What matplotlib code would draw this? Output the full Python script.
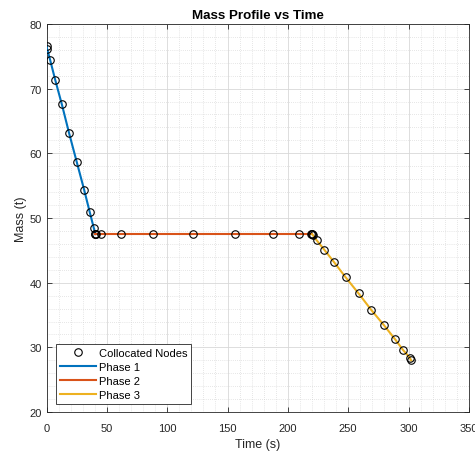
import matplotlib
matplotlib.use("Agg")
import matplotlib.pyplot as plt
from matplotlib.ticker import MultipleLocator

plt.rcParams["font.family"] = ["Liberation Sans", "DejaVu Sans"]

# collocated nodes per phase (time s, mass t)
t1 = [0.0, 0.5, 3.0, 7.1, 12.7, 18.7, 25.1, 31.1, 35.8, 39.1, 40.5]
m1 = [76.6, 76.1, 74.4, 71.4, 67.55, 63.1, 58.6, 54.4, 50.9, 48.5, 47.5]
t2 = [40.5, 41.2, 44.9, 61.5, 88.2, 121.3, 156.6, 187.6, 209.6, 219.3, 220.0]
m2 = [47.5, 47.5, 47.5, 47.5, 47.5, 47.5, 47.5, 47.5, 47.5, 47.5, 47.5]
t3 = [220.0, 220.6, 223.9, 230.2, 238.2, 247.8, 258.6, 269.1, 279.8, 288.7, 295.5, 301.1, 302.2]
m3 = [47.5, 47.4, 46.55, 45.1, 43.2, 40.86, 38.35, 35.8, 33.4, 31.3, 29.6, 28.4, 28.0]

phase_colors = ["#0072BD", "#D95319", "#EDB120"]
text_col = "#262626"

fig = plt.figure(figsize=(4.75, 4.52), dpi=100)
ax = fig.add_axes([0.098, 0.086, 0.889, 0.859])

ax.plot(t1 + t2 + t3, m1 + m2 + m3, "o", mfc="none", mec="black", ms=5.4, mew=0.8,
        label="Collocated Nodes", zorder=4)
for i, (t, m) in enumerate([(t1, m1), (t2, m2), (t3, m3)]):
    ax.plot(t, m, "-", color=phase_colors[i], lw=1.5, label=f"Phase {i + 1}", zorder=3)

ax.set_xlim(0, 350)
ax.set_ylim(20, 80)
ax.xaxis.set_major_locator(MultipleLocator(50))
ax.yaxis.set_major_locator(MultipleLocator(10))
ax.xaxis.set_minor_locator(MultipleLocator(10))
ax.yaxis.set_minor_locator(MultipleLocator(2))

ax.grid(True, which="major", color="#d8d8d8", lw=0.6)
ax.grid(True, which="minor", color="#cfcfcf", lw=0.5, ls=(0, (1, 2)))
ax.set_axisbelow(True)

ax.tick_params(which="both", direction="in", top=True, right=True,
               colors=text_col, labelsize=8)
ax.tick_params(which="major", length=3.5, width=0.6)
ax.tick_params(which="minor", length=0)
ax.tick_params(axis="x", pad=7.5)
for s in ax.spines.values():
    s.set_color(text_col)
    s.set_linewidth(0.6)

ax.set_title("Mass Profile vs Time", fontsize=9.6, fontweight="bold", pad=4)
ax.set_xlabel("Time (s)", fontsize=9, color=text_col, labelpad=4)
ax.set_ylabel("Mass (t)", fontsize=9, color=text_col, labelpad=2)

leg = ax.legend(loc="lower left", bbox_to_anchor=(0.022, 0.022), borderaxespad=0,
                fontsize=8, fancybox=False, framealpha=1, edgecolor=text_col,
                handlelength=3.25, handletextpad=0.27, labelspacing=0.35,
                borderpad=0.35)
leg.get_frame().set_linewidth(0.6)

fig.savefig("out.png", dpi=100)
